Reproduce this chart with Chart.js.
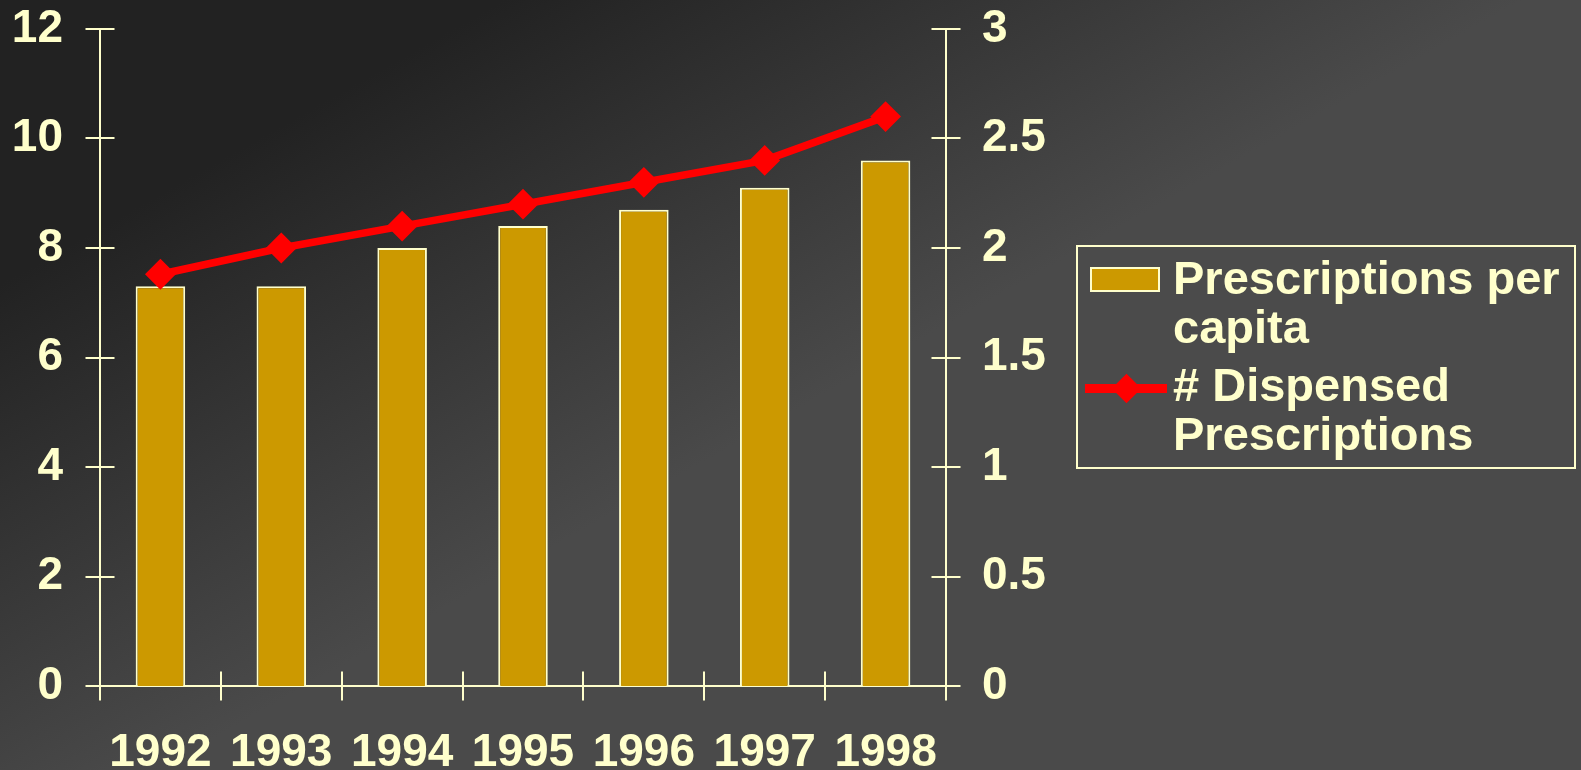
<!DOCTYPE html>
<html>
<head>
<meta charset="utf-8">
<title>Prescriptions 1992–1998</title>
<script src="https://cdn.jsdelivr.net/npm/chart.js@4.4.1/dist/chart.umd.min.js"></script>
<style>
  html, body { margin: 0; padding: 0; background: #3a3a3a; overflow: hidden; }
  #wrap { position: relative; width: 1581px; height: 770px; }
  #chart { position: absolute; left: 0; top: 0; }
  #legend {
    position: absolute; left: 1076px; top: 245px; width: 500px; height: 224px;
    box-sizing: border-box; border: 2px solid #FFFFCC; background: rgba(76, 76, 76, 0.55);
    font: bold 47px "Liberation Sans", Arial, sans-serif; color: #FFFFCC;
  }
  #legend .txt { position: absolute; left: 95px; line-height: 49px; white-space: nowrap; }
  #legend .bar-swatch {
    position: absolute; left: 12px; top: 20px; width: 70px; height: 25px;
    box-sizing: border-box; background: #CC9900; border: 2px solid #FFFFCC;
  }
  #legend .line-swatch { position: absolute; left: 7px; top: 137px; width: 82px; height: 9px; background: #FF0000; }
  #legend .diamond {
    position: absolute; left: 38px; top: 131px; width: 21px; height: 21px;
    background: #FF0000; transform: rotate(45deg);
  }
</style>
</head>
<body>
<div id="wrap">
  <canvas id="chart" width="1581" height="770"></canvas>
  <div id="legend">
    <div class="bar-swatch"></div>
    <div class="txt" style="top:6px">Prescriptions per<br>capita</div>
    <div class="line-swatch"></div>
    <div class="diamond"></div>
    <div class="txt" style="top:113px"># Dispensed<br>Prescriptions</div>
  </div>
</div>
<script>
// Years on the category axis
const years = ['1992', '1993', '1994', '1995', '1996', '1997', '1998'];
// Prescriptions per capita (left axis)
const perCapita = [7.3, 7.3, 8.0, 8.4, 8.7, 9.1, 9.6];
// Number of dispensed prescriptions (right axis)
const dispensed = [1.88, 2.0, 2.1, 2.2, 2.3, 2.4, 2.6];
// Axis ranges and steps
const leftAxis = { min: 0, max: 12, step: 2 };
const rightAxis = { min: 0, max: 3, step: 0.5 };

const CREAM = '#FFFFCC';
const GOLD = '#CC9900';
const RED = '#FF0000';
const FONT = { family: '"Liberation Sans", Arial, sans-serif', weight: 'bold', size: 46 };

// Dark diagonal backdrop, darkest toward the upper-left corner
const backdrop = {
  id: 'backdrop',
  beforeDraw(chart) {
    const { ctx, width, height } = chart;
    const g = ctx.createLinearGradient(123, 215, 369, 651);
    g.addColorStop(0, '#222222');
    g.addColorStop(1, '#4a4a4a');
    ctx.save();
    ctx.fillStyle = g;
    ctx.fillRect(0, 0, width, height);
    ctx.restore();
  }
};

// Axis lines with tick marks that cross the axes
const crossAxes = {
  id: 'crossAxes',
  beforeDatasetsDraw(chart) {
    const { ctx, chartArea: a, scales } = chart;
    const x = scales.x, yL = scales.y, yR = scales.y1;
    const half = 14.5;
    ctx.save();
    ctx.strokeStyle = CREAM;
    ctx.lineWidth = 2;
    ctx.beginPath();
    // axis lines
    ctx.moveTo(a.left, a.top); ctx.lineTo(a.left, a.bottom);
    ctx.moveTo(a.right, a.top); ctx.lineTo(a.right, a.bottom);
    ctx.moveTo(a.left, a.bottom); ctx.lineTo(a.right, a.bottom);
    // left value ticks
    yL.ticks.forEach((t, i) => {
      const py = Math.round(yL.getPixelForTick(i));
      ctx.moveTo(a.left - half, py); ctx.lineTo(a.left + half, py);
    });
    // right value ticks
    yR.ticks.forEach((t, i) => {
      const py = Math.round(yR.getPixelForTick(i));
      ctx.moveTo(a.right - half, py); ctx.lineTo(a.right + half, py);
    });
    // category boundary ticks
    for (let i = 0; i <= years.length; i++) {
      const px = Math.round(x.getPixelForValue(i - 0.5));
      ctx.moveTo(px, a.bottom - half); ctx.lineTo(px, a.bottom + half);
    }
    ctx.stroke();
    ctx.restore();
  }
};

// Keep tick-label overflow from pushing the plot area inward
function noEdgePadding(s) {
  s.paddingTop = 0; s.paddingBottom = 0; s.paddingLeft = 0; s.paddingRight = 0;
}

new Chart(document.getElementById('chart'), {
  data: {
    labels: years,
    datasets: [
      {
        type: 'line',
        label: '# Dispensed Prescriptions',
        data: dispensed,
        yAxisID: 'y1',
        order: 0,
        borderColor: RED,
        borderWidth: 7.5,
        tension: 0,
        pointStyle: 'rectRot',
        pointRadius: 14,
        pointBorderWidth: 2,
        pointBackgroundColor: RED,
        pointBorderColor: RED,
        clip: false
      },
      {
        type: 'bar',
        label: 'Prescriptions per capita',
        data: perCapita,
        yAxisID: 'y',
        order: 1,
        backgroundColor: GOLD,
        borderColor: CREAM,
        borderWidth: 2,
        barPercentage: 0.41,
        categoryPercentage: 1
      }
    ]
  },
  options: {
    responsive: false,
    animation: false,
    layout: { padding: { top: 29, left: 0, right: 0, bottom: 0 } },
    plugins: { legend: { display: false }, tooltip: { enabled: false } },
    scales: {
      x: {
        type: 'category',
        offset: true,
        grid: { display: false, drawTicks: false, tickLength: 0 },
        border: { display: false },
        ticks: { color: CREAM, font: FONT, padding: 40, maxRotation: 0, autoSkip: false },
        afterFit(s) { s.height = 84; noEdgePadding(s); }
      },
      y: {
        position: 'left',
        min: leftAxis.min, max: leftAxis.max,
        grid: { display: false, drawTicks: false, tickLength: 0 },
        border: { display: false },
        ticks: { stepSize: leftAxis.step, color: CREAM, font: FONT, padding: 37 },
        afterFit(s) { s.width = 100; noEdgePadding(s); }
      },
      y1: {
        position: 'right',
        min: rightAxis.min, max: rightAxis.max,
        grid: { display: false, drawTicks: false, tickLength: 0 },
        border: { display: false },
        ticks: {
          stepSize: rightAxis.step, color: CREAM, font: FONT, padding: 36,
          callback: v => String(v)
        },
        afterFit(s) { s.width = 635; noEdgePadding(s); }
      }
    }
  },
  plugins: [backdrop, crossAxes]
});
</script>
</body>
</html>
